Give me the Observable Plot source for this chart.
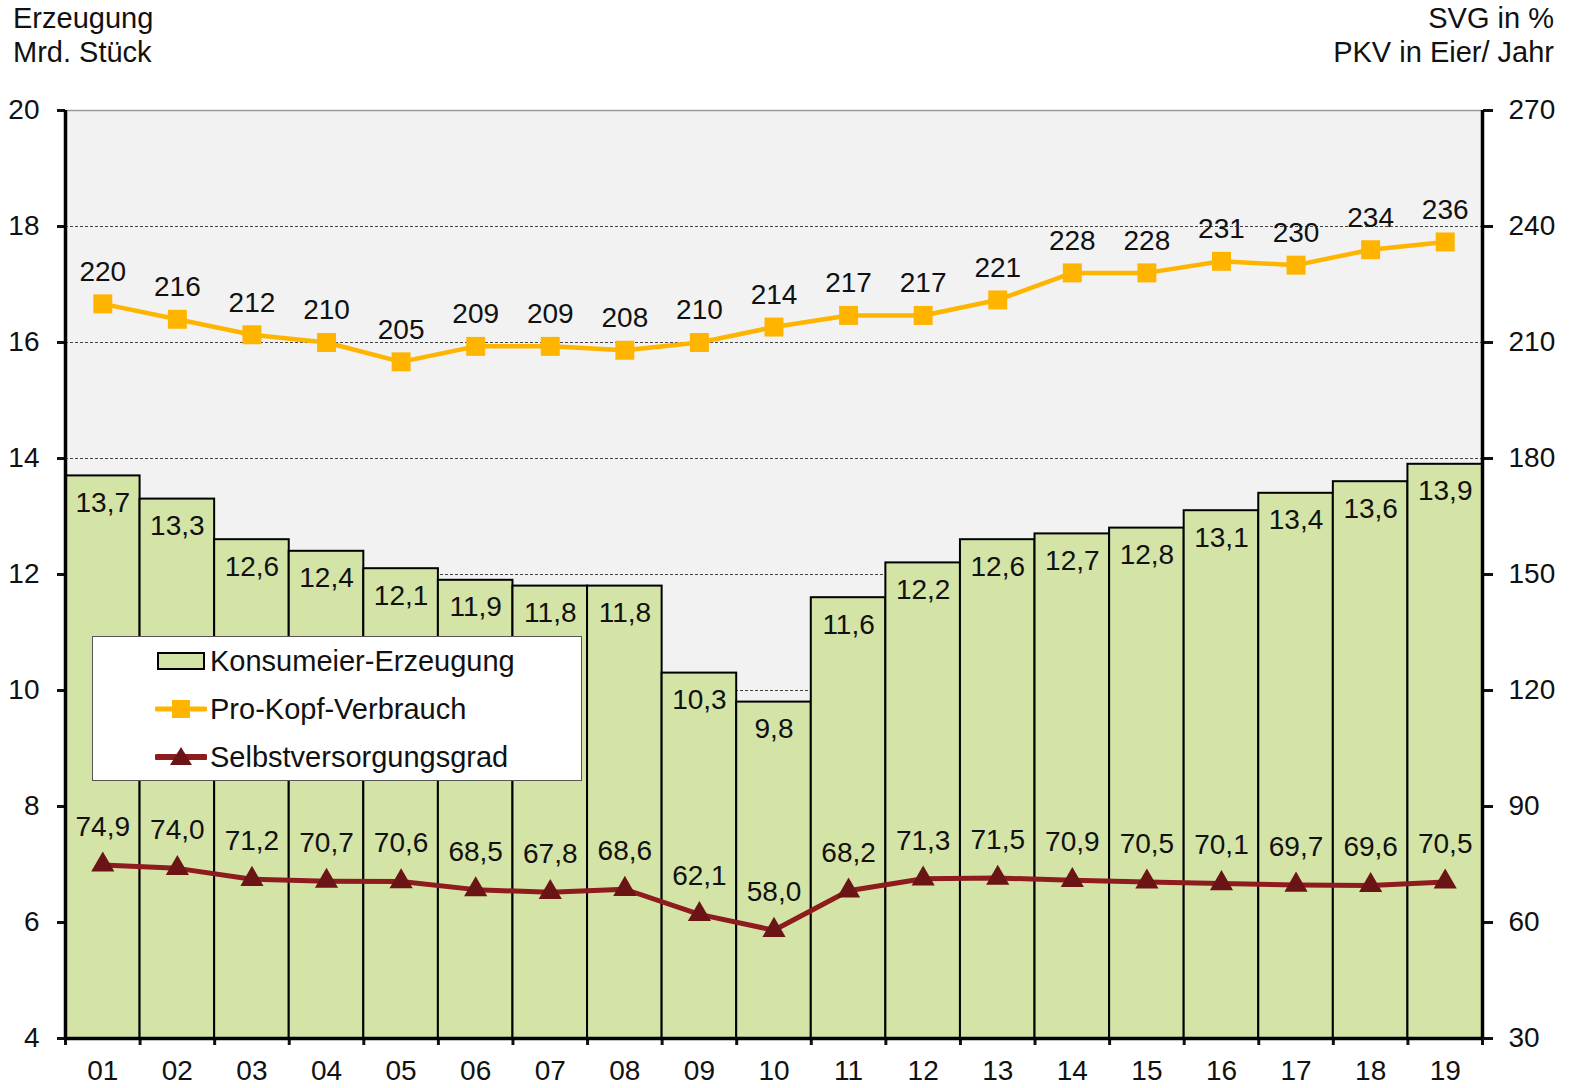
<!DOCTYPE html>
<html>
<head>
<meta charset="utf-8">
<script src="https://cdn.jsdelivr.net/npm/d3@7"></script>
<script src="https://cdn.jsdelivr.net/npm/@observablehq/plot@0.6"></script>
<style>
  body { margin: 0; background: white; font-family: "Liberation Sans", Arial, sans-serif; }
  #wrap { position: relative; width: 1575px; height: 1088px; }
  .title { position: absolute; font-size: 29px; line-height: 34px; color: #111; }
  #legend { position: absolute; left: 92px; top: 636px; width: 490px; height: 145px; background: white; border: 1.5px solid #555; box-sizing: border-box; }
  .row { position: absolute; left: 62px; height: 30px; display: flex; align-items: center; font-size: 29px; color: #111; }
  .row svg { margin-right: 3px; }
</style>
</head>
<body>
<div id="wrap">
  <div class="title" style="left:13px; top:1px;">Erzeugung<br>Mrd. Stück</div>
  <div class="title" style="right:21px; top:1px; text-align:right;">SVG in %<br>PKV in Eier/ Jahr</div>
</div>
<script>
const years = ["01","02","03","04","05","06","07","08","09","10","11","12","13","14","15","16","17","18","19"];
const production = [13.7,13.3,12.6,12.4,12.1,11.9,11.8,11.8,10.3,9.8,11.6,12.2,12.6,12.7,12.8,13.1,13.4,13.6,13.9];
const pkv = [220,216,212,210,205,209,209,208,210,214,217,217,221,228,228,231,230,234,236];
const svgDeg = [74.9,74.0,71.2,70.7,70.6,68.5,67.8,68.6,62.1,58.0,68.2,71.3,71.5,70.9,70.5,70.1,69.7,69.6,70.5];
const leftTicks = [4,6,8,10,12,14,16,18,20];

const data = years.map((y, i) => ({i: i + 1, year: y, prod: production[i], pkv: pkv[i], svg: svgDeg[i]}));
const toLeft = v => 4 + (v - 30) / 15;
const fmt = v => v.toFixed(1).replace(".", ",");

const ORANGE = "#ffb400";
const RED = "#8e1b1e";
const RED_DARK = "#6a1416";
const GREEN = "#d3e4a6";

const chart = Plot.plot({
  width: 1575,
  height: 1088,
  marginLeft: 65,
  marginRight: 93,
  marginTop: 110,
  marginBottom: 50,
  style: {fontFamily: "'Liberation Sans', Arial, sans-serif", fontSize: "28px", color: "#111", background: "transparent"},
  x: {type: "linear", domain: [0.5, 19.5]},
  y: {domain: [4, 20]},
  marks: [
    Plot.frame({fill: "#f2f2f2", stroke: null}),
    Plot.ruleY([10, 12, 14, 16, 18], {stroke: "#444", strokeWidth: 1, strokeDasharray: "3,2"}),
    Plot.ruleY([20], {stroke: "#9a9a9a", strokeWidth: 1.5}),
    Plot.rectY(data, {x1: d => d.i - 0.5, x2: d => d.i + 0.5, y1: 4, y2: "prod", fill: GREEN, stroke: "#000", strokeWidth: 2}),
    Plot.text(data, {x: "i", y: "prod", text: d => fmt(d.prod), dy: 27, fontSize: 28, fill: "#111"}),
    Plot.line(data, {x: "i", y: d => toLeft(d.pkv), stroke: ORANGE, strokeWidth: 4.5}),
    Plot.dot(data, {x: "i", y: d => toLeft(d.pkv), symbol: "square", r: 10.7, fill: ORANGE, stroke: null}),
    Plot.text(data, {x: "i", y: d => toLeft(d.pkv), text: d => String(d.pkv), dy: -32, fontSize: 28, fill: "#111"}),
    Plot.line(data, {x: "i", y: d => toLeft(d.svg), stroke: RED, strokeWidth: 5}),
    Plot.dot(data, {x: "i", y: d => toLeft(d.svg), symbol: "triangle", r: 8.6, fill: RED_DARK, stroke: null}),
    Plot.text(data, {x: "i", y: d => toLeft(d.svg), text: d => fmt(d.svg), dy: -38, fontSize: 28, fill: "#111"}),
    Plot.axisY({ticks: leftTicks, anchor: "left", tickSize: 8, tickPadding: 18, strokeWidth: 3, label: null, tickFormat: d => String(d), fontSize: 28}),
    Plot.axisY({ticks: leftTicks, anchor: "right", tickSize: 10, tickPadding: 16, strokeWidth: 3, label: null, tickFormat: d => String(30 + (d - 4) * 15), fontSize: 28}),
    Plot.axisX({ticks: d3.range(0.5, 20, 1), tickSize: 7, strokeWidth: 3, label: null, tickFormat: () => ""}),
    Plot.axisX({ticks: d3.range(1, 20), tickSize: 0, tickPadding: 22, label: null, tickFormat: d => years[d - 1], fontSize: 28}),
    Plot.ruleX([0.5, 19.5], {y1: 4, y2: 20, stroke: "#000", strokeWidth: 3.5}),
    Plot.ruleY([4], {x1: 0.5, x2: 19.5, stroke: "#000", strokeWidth: 3.5})
  ]
});
chart.style.position = "absolute";
chart.style.left = "0";
chart.style.top = "0";
const wrap = document.getElementById("wrap");
wrap.insertBefore(chart, wrap.firstChild);

// legend
const legend = document.createElement("div");
legend.id = "legend";
const entries = [
  {label: "Konsumeier-Erzeugung", kind: "bar"},
  {label: "Pro-Kopf-Verbrauch", kind: "square"},
  {label: "Selbstversorgungsgrad", kind: "triangle"}
];
entries.forEach((e, k) => {
  const row = document.createElement("div");
  row.className = "row";
  row.style.top = (9 + k * 48) + "px";
  let sw;
  if (e.kind === "bar") {
    sw = `<svg width="52" height="30"><rect x="3" y="7" width="46" height="16" fill="${GREEN}" stroke="#000" stroke-width="2"/></svg>`;
  } else if (e.kind === "square") {
    sw = `<svg width="52" height="30"><line x1="2" x2="50" y1="15" y2="15" stroke="${ORANGE}" stroke-width="5" stroke-linecap="round"/><rect x="17" y="6" width="18" height="18" fill="${ORANGE}"/></svg>`;
  } else {
    sw = `<svg width="52" height="30"><line x1="2" x2="50" y1="15" y2="15" stroke="${RED}" stroke-width="6" stroke-linecap="round"/><path d="M26,5 L37,23 L15,23 Z" fill="${RED_DARK}"/></svg>`;
  }
  row.innerHTML = sw + `<span>${e.label}</span>`;
  legend.appendChild(row);
});
wrap.appendChild(legend);
</script>
</body>
</html>
